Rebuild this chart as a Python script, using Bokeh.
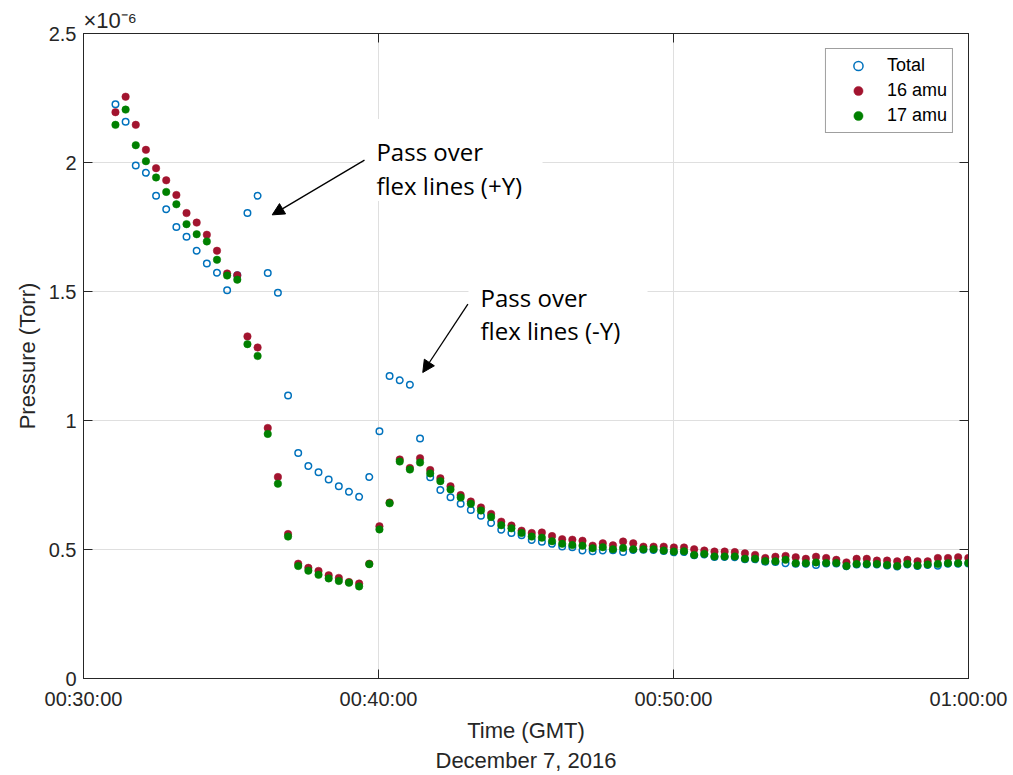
import pandas as pd
from bokeh.plotting import figure
from bokeh.models import (Range1d, FixedTicker, DatetimeTickFormatter, CustomJSTickFormatter,
                          LinearAxis, Label, Arrow, NormalHead, BoxAnnotation, Legend, LegendItem)
from bokeh.embed import file_html
from bokeh.resources import INLINE

# ---------------- data (pressure in units of 1e-6 Torr) ----------------
start_time = "2016-12-07 00:31:05"
sample_interval_s = 20.65

total = [2.226, 2.158, 1.988, 1.960, 1.871, 1.819, 1.750, 1.712, 1.658, 1.609,
         1.573, 1.505, 1.563, 1.804, 1.871, 1.572, 1.495, 1.097, 0.874, 0.824,
         0.799, 0.771, 0.745, 0.724, 0.704, 0.781, 0.958, 1.172, 1.156, 1.139,
         0.930, 0.780, 0.731, 0.703, 0.677, 0.653, 0.631, 0.603, 0.577, 0.564,
         0.555, 0.537, 0.530, 0.522, 0.512, 0.509, 0.496, 0.493, 0.496, 0.497,
         0.490, 0.498, 0.499, 0.498, 0.494, 0.489, 0.490, 0.478, 0.481, 0.471,
         0.471, 0.470, 0.462, 0.462, 0.453, 0.452, 0.447, 0.445, 0.445, 0.440,
         0.446, 0.446, 0.435, 0.442, 0.442, 0.442, 0.438, 0.434, 0.442, 0.436,
         0.440, 0.437, 0.445, 0.445, 0.446]

amu16 = [2.195, 2.255, 2.146, 2.049, 1.978, 1.931, 1.874, 1.804, 1.767, 1.720,
         1.658, 1.570, 1.563, 1.326, 1.283, 0.971, 0.781, 0.560, 0.445, 0.429,
         0.417, 0.400, 0.390, 0.374, 0.368, 0.445, 0.590, 0.682, 0.849, 0.816,
         0.854, 0.808, 0.776, 0.745, 0.711, 0.686, 0.663, 0.638, 0.608, 0.593,
         0.573, 0.564, 0.566, 0.552, 0.540, 0.538, 0.534, 0.515, 0.524, 0.516,
         0.531, 0.524, 0.511, 0.511, 0.511, 0.508, 0.508, 0.501, 0.496, 0.492,
         0.492, 0.490, 0.485, 0.479, 0.467, 0.472, 0.475, 0.470, 0.464, 0.472,
         0.467, 0.460, 0.450, 0.464, 0.464, 0.457, 0.457, 0.454, 0.460, 0.454,
         0.454, 0.467, 0.467, 0.470, 0.467]

amu17 = [2.146, 2.205, 2.067, 2.005, 1.942, 1.886, 1.838, 1.761, 1.722, 1.694,
         1.623, 1.562, 1.546, 1.296, 1.250, 0.948, 0.755, 0.550, 0.436, 0.418,
         0.402, 0.388, 0.378, 0.371, 0.357, 0.443, 0.578, 0.679, 0.841, 0.810,
         0.837, 0.795, 0.765, 0.733, 0.702, 0.677, 0.651, 0.626, 0.594, 0.582,
         0.564, 0.550, 0.546, 0.532, 0.522, 0.517, 0.515, 0.505, 0.509, 0.501,
         0.506, 0.501, 0.501, 0.501, 0.496, 0.492, 0.493, 0.479, 0.483, 0.473,
         0.473, 0.473, 0.464, 0.464, 0.455, 0.454, 0.460, 0.447, 0.447, 0.450,
         0.448, 0.448, 0.436, 0.444, 0.444, 0.444, 0.440, 0.436, 0.444, 0.438,
         0.442, 0.444, 0.447, 0.447, 0.448]

series_names = ["Total", "16 amu", "17 amu"]
x_tick_times = ["2016-12-07 00:30:00", "2016-12-07 00:40:00",
                "2016-12-07 00:50:00", "2016-12-07 01:00:00"]
y_ticks = [0, 0.5, 1, 1.5, 2, 2.5]

times = pd.to_datetime(start_time) + pd.to_timedelta(
    [i * sample_interval_s for i in range(len(total))], unit="s")

base = pd.Timestamp("2016-12-07 00:30:00")


def ms(minutes_after_base):
    return (base + pd.Timedelta(minutes=minutes_after_base)).value / 1e6


tick_ms = [pd.Timestamp(t).value / 1e6 for t in x_tick_times]

AX = "#262626"
FONT = "Liberation Sans"

p = figure(width=1013, height=775, x_axis_type="datetime",
           output_backend="svg", toolbar_location=None,
           x_range=Range1d(tick_ms[0], tick_ms[-1]), y_range=Range1d(0, 2.5),
           min_border_left=83, min_border_right=45, min_border_top=33,
           min_border_bottom=97)
p.background_fill_color = "white"
p.border_fill_color = "white"
p.outline_line_color = AX
p.outline_line_width = 1

# exponent shown as the title, as MATLAB does above the y axis
p.title.text = "×10⁻⁶"
p.title.align = "left"
p.title.text_font = FONT
p.title.text_font_size = "22px"
p.title.text_font_style = "normal"
p.title.text_color = AX
p.title.standoff = 2
p.title.offset = 0

# axes
p.xaxis.ticker = FixedTicker(ticks=tick_ms)
fmt = "%H:%M:%S"
p.xaxis.formatter = DatetimeTickFormatter(
    microseconds=fmt, milliseconds=fmt, seconds=fmt, minsec=fmt, minutes=fmt,
    hourmin=fmt, hours=fmt, days=fmt, months=fmt, years=fmt)
p.yaxis.ticker = FixedTicker(ticks=y_ticks)
p.yaxis.formatter = CustomJSTickFormatter(code="return tick.toString();")

for ax in (p.xaxis[0], p.yaxis[0]):
    ax.axis_line_color = AX
    ax.major_tick_line_color = AX
    ax.major_tick_in = 9
    ax.major_tick_out = 0
    ax.minor_tick_line_color = None
    ax.major_label_text_font = FONT
    ax.major_label_text_font_size = "20px"
    ax.major_label_text_color = AX
    ax.axis_label_text_font = FONT
    ax.axis_label_text_font_size = "22px"
    ax.axis_label_text_font_style = "normal"
    ax.axis_label_text_color = AX

p.xaxis.axis_label = "Time (GMT)\nDecember 7, 2016"
p.yaxis.axis_label = "Pressure (Torr)"
p.xaxis.major_label_standoff = 9
p.yaxis.major_label_standoff = 7
p.xaxis.axis_label_standoff = 5
p.yaxis.axis_label_standoff = 6

blank = CustomJSTickFormatter(code="return '';")
top_ax = LinearAxis(ticker=FixedTicker(ticks=tick_ms), formatter=blank)
right_ax = LinearAxis(ticker=FixedTicker(ticks=y_ticks), formatter=blank)
for ax in (top_ax, right_ax):
    ax.axis_line_color = AX
    ax.major_tick_line_color = AX
    ax.major_tick_in = 9
    ax.major_tick_out = 0
    ax.minor_tick_line_color = None
    ax.major_label_standoff = 0
    ax.major_label_text_font_size = "2px"
p.add_layout(top_ax, "above")
p.add_layout(right_ax, "right")

# grid
for g in (p.xgrid[0], p.ygrid[0]):
    g.grid_line_color = "#dfdfdf"
    g.grid_line_width = 1

# data
r_tot = p.scatter(times, total, size=6.5, marker="circle", fill_color=None,
                  line_color="#0072BD", line_width=1.5)
r_16 = p.scatter(times, amu16, size=7.5, marker="circle", fill_color="#A2142F",
                 line_color="#A2142F", line_width=0.5)
r_17 = p.scatter(times, amu17, size=7.5, marker="circle", fill_color="#008000",
                 line_color="#008000", line_width=0.5)

legend = Legend(items=[LegendItem(label=series_names[0], renderers=[r_tot]),
                       LegendItem(label=series_names[1], renderers=[r_16]),
                       LegendItem(label=series_names[2], renderers=[r_17])],
                location="top_right")
legend.margin = 15
legend.padding = 5
legend.spacing = 2
legend.label_height = 23
legend.glyph_height = 23
legend.glyph_width = 54
legend.label_standoff = 2
legend.label_text_font = FONT
legend.label_text_font_size = "18px"
legend.label_text_color = "black"
legend.border_line_color = "#404040"
legend.border_line_width = 1
legend.background_fill_color = "white"
legend.background_fill_alpha = 1
p.add_layout(legend)

# annotations
ANN_FONT = "Open Sans"
p.add_layout(BoxAnnotation(left=ms(9.49), right=ms(15.56), bottom=1.851, top=2.169,
                           fill_color="white", fill_alpha=1, line_color=None))
p.add_layout(BoxAnnotation(left=ms(13.05), right=ms(19.12), bottom=1.309, top=1.600,
                           fill_color="white", fill_alpha=1, line_color=None))

for (xm, yb, txt) in [(9.93, 2.042, "Pass over"), (9.93, 1.909, "flex lines (+Y)"),
                      (13.46, 1.477, "Pass over"), (13.46, 1.348, "flex lines (-Y)")]:
    p.add_layout(Label(x=ms(xm), y=yb, text=txt, text_font=ANN_FONT,
                       text_font_size="24px", text_color="black",
                       text_baseline="alphabetic", text_align="left"))

for (x0, y0, x1, y1) in [(9.525, 2.009, 6.397, 1.797), (13.03, 1.451, 11.50, 1.186)]:
    p.add_layout(Arrow(end=NormalHead(size=12, fill_color="black", line_color="black"),
                       x_start=ms(x0), y_start=y0, x_end=ms(x1), y_end=y1,
                       line_color="black", line_width=1.3))

open("out.html", "w").write(file_html(p, INLINE))
